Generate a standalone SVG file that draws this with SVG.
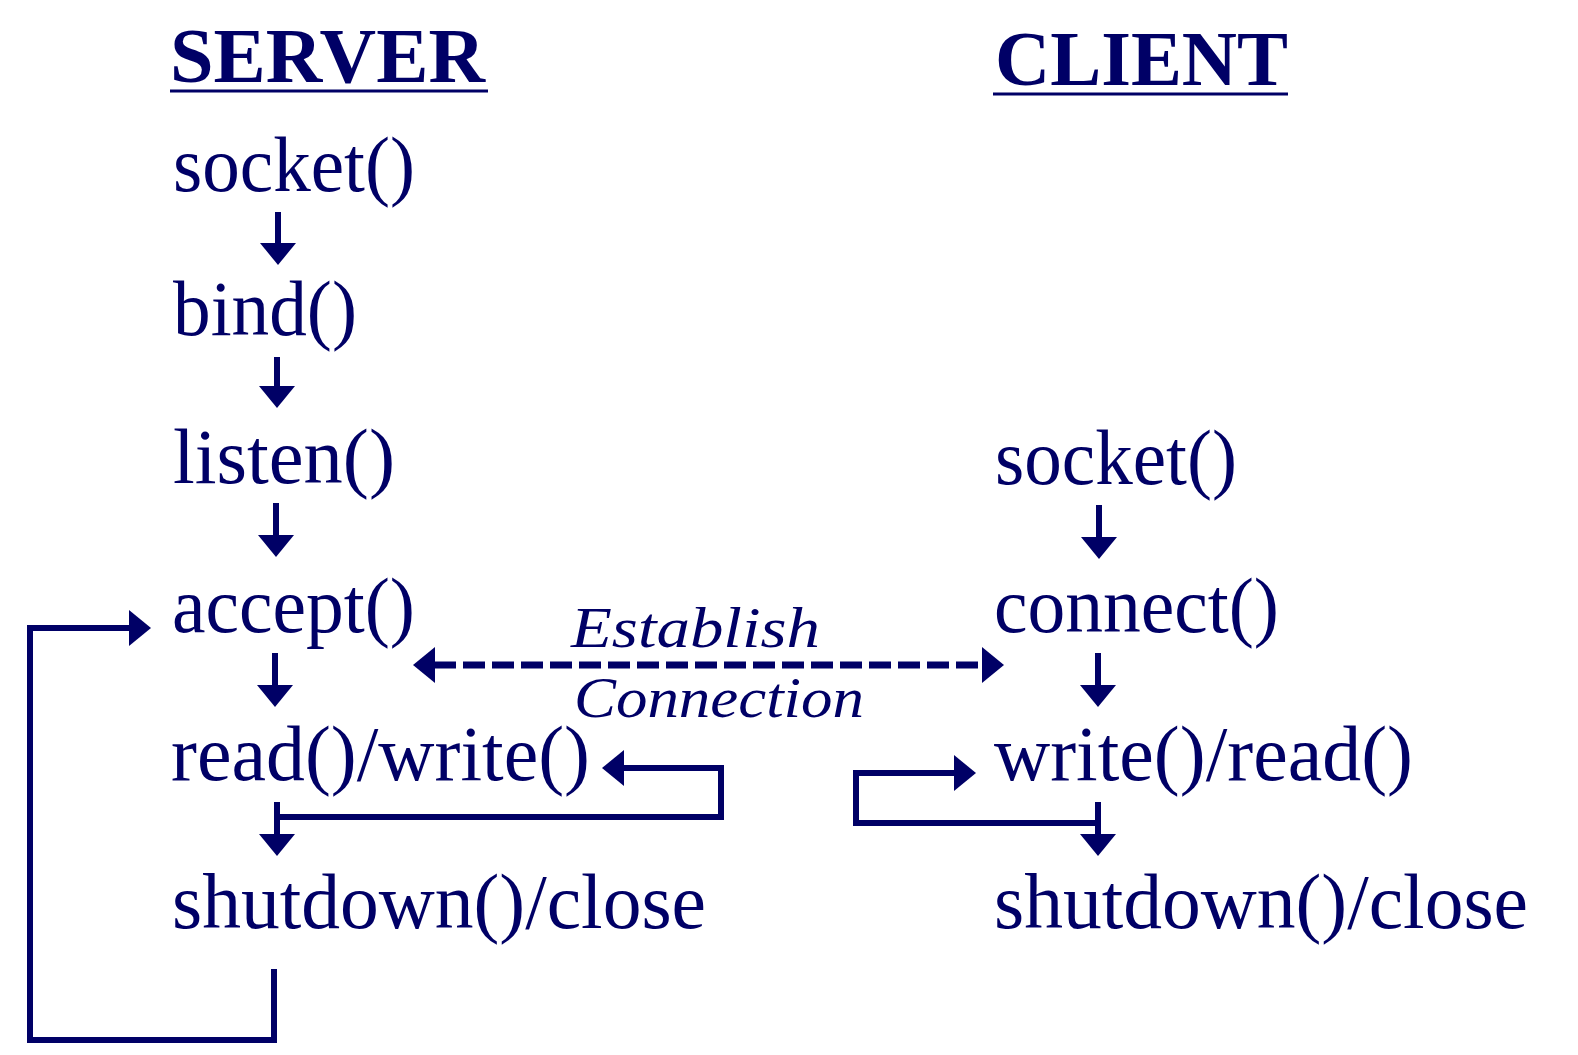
<svg xmlns="http://www.w3.org/2000/svg" width="1578" height="1055" viewBox="0 0 1578 1055">
<defs>
<marker id="ah" markerUnits="userSpaceOnUse" markerWidth="24" markerHeight="38" viewBox="0 -19 24 38" refX="1" refY="0" orient="auto-start-reverse">
<path d="M0,-18 L22,0 L0,18 z" fill="#000066"/>
</marker>
<style>
.lbl{font-family:"Liberation Serif","Times New Roman",serif;font-size:78px;fill:#000066}
.hd{font-family:"Liberation Serif","Times New Roman",serif;font-size:78px;font-weight:bold;fill:#000066}
.it{font-family:"Liberation Serif","Times New Roman",serif;font-size:58px;font-style:italic;fill:#000066}
.ul{stroke:#000066;stroke-width:3}
.c{fill:none;stroke:#000066;stroke-width:6;marker-end:url(#ah)}
.d{fill:none;stroke:#000066;stroke-width:7;stroke-dasharray:22 7;marker-start:url(#ah);marker-end:url(#ah)}
</style>
</defs>
<rect width="1578" height="1055" fill="#ffffff"/>

<g id="server-title">
<text class="hd" x="170" y="82" textLength="315" lengthAdjust="spacingAndGlyphs">SERVER</text>
<line class="ul" x1="170" y1="91" x2="488" y2="91"/>
</g>
<g id="client-title">
<text class="hd" x="995" y="85" textLength="293" lengthAdjust="spacingAndGlyphs">CLIENT</text>
<line class="ul" x1="993" y1="94" x2="1288" y2="94"/>
</g>

<g id="s-socket"><text class="lbl" x="173" y="191" textLength="242" lengthAdjust="spacingAndGlyphs">socket()</text></g>
<g id="s-bind"><text class="lbl" x="173" y="335" textLength="184" lengthAdjust="spacingAndGlyphs">bind()</text></g>
<g id="s-listen"><text class="lbl" x="173" y="483" textLength="222" lengthAdjust="spacingAndGlyphs">listen()</text></g>
<g id="s-accept"><text class="lbl" x="172" y="632" textLength="243" lengthAdjust="spacingAndGlyphs">accept()</text></g>
<g id="s-rw"><text class="lbl" x="171" y="780" textLength="419" lengthAdjust="spacingAndGlyphs">read()/write()</text></g>
<g id="s-close"><text class="lbl" x="172" y="928" textLength="534" lengthAdjust="spacingAndGlyphs">shutdown()/close</text></g>

<g id="c-socket"><text class="lbl" x="995" y="484" textLength="242" lengthAdjust="spacingAndGlyphs">socket()</text></g>
<g id="c-connect"><text class="lbl" x="994" y="632" textLength="285" lengthAdjust="spacingAndGlyphs">connect()</text></g>
<g id="c-wr"><text class="lbl" x="994" y="780" textLength="419" lengthAdjust="spacingAndGlyphs">write()/read()</text></g>
<g id="c-close"><text class="lbl" x="994" y="928" textLength="534" lengthAdjust="spacingAndGlyphs">shutdown()/close</text></g>

<g id="establish-label">
<text class="it" x="571" y="647" textLength="249" lengthAdjust="spacingAndGlyphs">Establish</text>
<text class="it" x="574" y="717" textLength="290" lengthAdjust="spacingAndGlyphs">Connection</text>
</g>

<g id="connectors">
<path class="c" d="M278,212 V244"/>
<path class="c" d="M277,357 V387"/>
<path class="c" d="M276,503 V536"/>
<path class="c" d="M275,653 V686"/>
<path class="c" d="M277,802 V835"/>
<path class="c" d="M1099,505 V538"/>
<path class="c" d="M1098,653 V686"/>
<path class="c" d="M1098,802 V835"/>
<path class="d" d="M434,665 H983"/>
<path class="c" d="M277,817 H721 V768 H623"/>
<path class="c" d="M1098,823 H856 V773 H955"/>
<path class="c" d="M274,969 V1040 H30 V628 H130"/>
</g>
</svg>
